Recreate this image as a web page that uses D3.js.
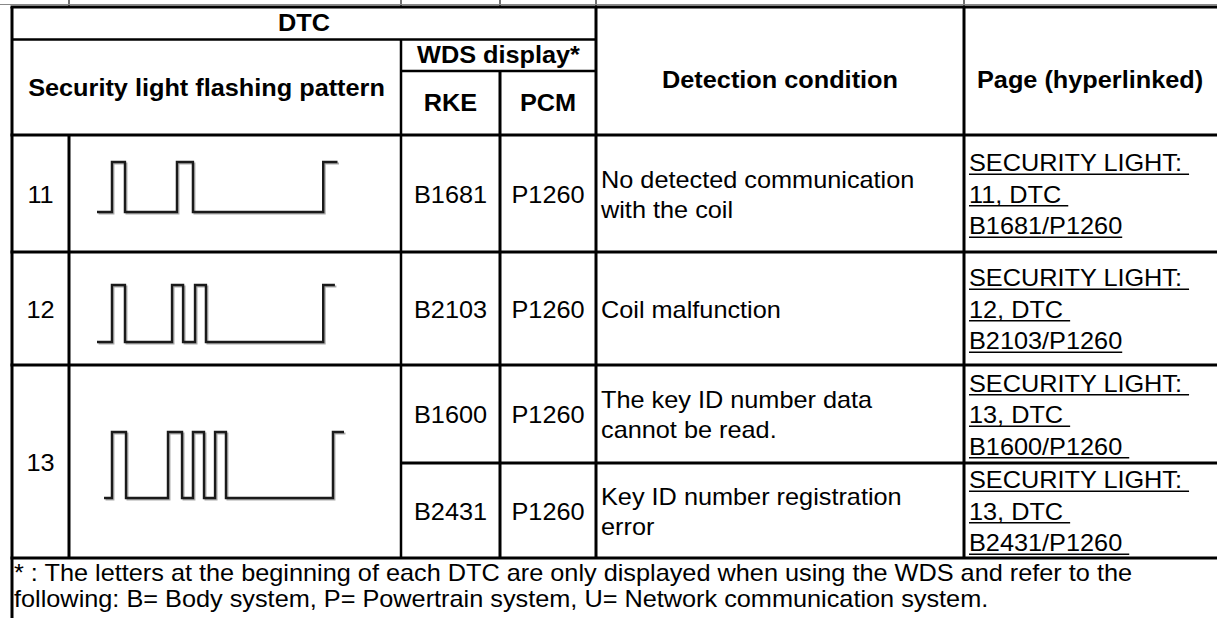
<!DOCTYPE html>
<html><head><meta charset="utf-8">
<script src="https://cdn.jsdelivr.net/npm/d3@7"></script>
<style>
body{margin:0;background:#fff;overflow:hidden}
text{font-family:"Liberation Sans",Arial,sans-serif;fill:#000;white-space:pre}
</style>
</head><body><svg id="c" width="1217" height="618"></svg>
<script>
// ---------- data ----------
const headerTop = "DTC";
const headerWds = "WDS display*";
const headerPattern = "Security light flashing pattern";
const headerRke = "RKE";
const headerPcm = "PCM";
const headerCond = "Detection condition";
const headerPage = "Page (hyperlinked)";
const dtcCodes = ["11", "12", "13"];
const dtcRowSpan = [[0, 0], [1, 1], [2, 3]];
const rkeCodes = ["B1681", "B2103", "B1600", "B2431"];
const pcmCodes = ["P1260", "P1260", "P1260", "P1260"];
const conditions = [
  ["No detected communication", "with the coil"],
  ["Coil malfunction"],
  ["The key ID number data", "cannot be read."],
  ["Key ID number registration", "error"]
];
const links = [
  ["SECURITY LIGHT: ", "11, DTC ", "B1681/P1260"],
  ["SECURITY LIGHT: ", "12, DTC ", "B2103/P1260"],
  ["SECURITY LIGHT: ", "13, DTC ", "B1600/P1260 "],
  ["SECURITY LIGHT: ", "13, DTC ", "B2431/P1260 "]
];
const footnote = [
  "* : The letters at the beginning of each DTC are only displayed when using the WDS and refer to the",
  "following: B= Body system, P= Powertrain system, U= Network communication system."
];
// flashing patterns: first = start time (low), then level-change times, last = end time
const pattern11 = [0, 1.15, 2.15, 6.15, 7.38, 17.4, 18.5];
const pattern12 = [0, 1.15, 2.15, 5.77, 6.62, 7.54, 8.38, 17.4, 18.3];
const pattern13 = [0.54, 1.15, 2.23, 5.46, 6.54, 7.38, 8.23, 9.08, 9.92, 18.15, 19.0];
const patterns = [pattern11, pattern12, pattern13];

// ---------- layout ----------
const FS = 23, SX = 1.1;
const colX = [12, 69, 401, 500, 596, 964, 1240];
const yTop = 7, yH1 = 39.5, yH2 = 71, yH3 = 135;
const rowY = [135, 252, 365, 463, 558];
const yBottom = 620;

const svg = d3.select("#c");
const gLines = svg.append("g");
const gText = svg.append("g");

function line(x1, y1, x2, y2, w, c) {
  gLines.append("line").attr("x1", x1).attr("y1", y1).attr("x2", x2).attr("y2", y2)
    .attr("stroke", c || "#000").attr("stroke-width", w || 3);
}
function txt(x, cy, s, o) {
  o = o || {};
  const base = cy + 0.36 * FS;
  const g = gText.append("g").attr("transform", `translate(${x},${base}) scale(${SX},1)`);
  const t = g.append("text").attr("x", 0).attr("y", 0)
    .attr("text-anchor", o.anchor || "start")
    .style("font-size", FS + "px")
    .style("font-weight", o.bold ? "bold" : "normal")
    .text(s);
  if (o.underline) {
    const len = t.node().getComputedTextLength();
    const a = o.anchor || "start";
    const x0 = a === "start" ? 0 : a === "middle" ? -len / 2 : -len;
    g.append("line").attr("x1", x0).attr("x2", x0 + len).attr("y1", 3).attr("y2", 3)
      .attr("stroke", "#000").attr("stroke-width", 1.6);
  }
}

// ---------- grid ----------
// remnants of the row above the top border
[69, 401, 500, 596, 964].forEach(x => line(x, 0, x, yTop, 1.5, "#444"));
line(0, 4.5, 1217, 4.5, 1, "#888");
line(colX[0] - 1.5, yTop, 1230, yTop, 3);
line(colX[0], yTop, colX[0], yBottom, 3);
line(colX[0], yH1, colX[4], yH1, 2.5);
line(colX[2], yH1, colX[2], rowY[4], 2.5);
line(colX[2], yH2, colX[4], yH2, 2.5);
line(colX[3], yH2, colX[3], rowY[4], 3);
line(colX[4], yTop, colX[4], rowY[4], 3);
line(colX[5], yTop, colX[5], rowY[4], 3);
line(colX[1], yH3, colX[1], rowY[4], 3);
rowY.forEach((y, i) => {
  const x0 = (i === 3) ? colX[2] : colX[0] - 1.5;
  line(x0, y, 1230, y, 3);
});

// ---------- header text ----------
txt((colX[0] + colX[4]) / 2, 23, headerTop, {anchor: "middle", bold: true});
txt((colX[2] + colX[4]) / 2, 55, headerWds, {anchor: "middle", bold: true});
txt((colX[0] + colX[2]) / 2, 88, headerPattern, {anchor: "middle", bold: true});
txt((colX[2] + colX[3]) / 2, 103, headerRke, {anchor: "middle", bold: true});
txt((colX[3] + colX[4]) / 2, 103, headerPcm, {anchor: "middle", bold: true});
txt((colX[4] + colX[5]) / 2, 80, headerCond, {anchor: "middle", bold: true});
txt(977, 80, headerPage, {anchor: "start", bold: true});

// ---------- body ----------
const rowMid = i => (rowY[i] + rowY[i + 1]) / 2;
dtcCodes.forEach((c, i) => {
  const [a, b] = dtcRowSpan[i];
  const cy = (rowY[a] + rowY[b + 1]) / 2;
  txt((colX[0] + colX[1]) / 2, cy + 1, c, {anchor: "middle"});
});
rkeCodes.forEach((c, i) => txt((colX[2] + colX[3]) / 2, rowMid(i) + 1, c, {anchor: "middle"}));
pcmCodes.forEach((c, i) => txt((colX[3] + colX[4]) / 2, rowMid(i) + 1, c, {anchor: "middle"}));
conditions.forEach((lines, i) => {
  const pitch = 30;
  const m = rowMid(i) + 1;
  lines.forEach((s, j) => txt(601, m + (j - (lines.length - 1) / 2) * pitch, s));
});
links.forEach((lines, i) => {
  const pitch = 31.5;
  const m = rowMid(i) + 1;
  lines.forEach((s, j) => txt(969, m + (j - (lines.length - 1) / 2) * pitch, s, {underline: true}));
});
footnote.forEach((s, j) => txt(14, 573 + j * 26, s));

// ---------- flashing patterns ----------
const xT = d3.scaleLinear().domain([0, 20]).range([97, 97 + 260]);
const waveBox = [[162, 212], [285, 342], [432, 498]];
patterns.forEach((p, k) => {
  const yL = d3.scaleLinear().domain([0, 1]).range([waveBox[k][1], waveBox[k][0]]);
  const pts = [];
  let lvl = 0;
  pts.push([p[0], lvl]);
  for (let i = 1; i < p.length - 1; i++) {
    pts.push([p[i], lvl]);
    lvl = 1 - lvl;
    pts.push([p[i], lvl]);
  }
  pts.push([p[p.length - 1], lvl]);
  const gen = d3.line().x(d => xT(d[0])).y(d => yL(d[1]));
  svg.append("path").attr("d", gen(pts)).attr("fill", "none")
    .attr("stroke", "#aaa").attr("stroke-width", 2).attr("transform", "translate(1.5,1.5)");
  svg.append("path").attr("d", gen(pts)).attr("fill", "none")
    .attr("stroke", "#1a1a1a").attr("stroke-width", 2.4);
});
</script>
</body></html>
